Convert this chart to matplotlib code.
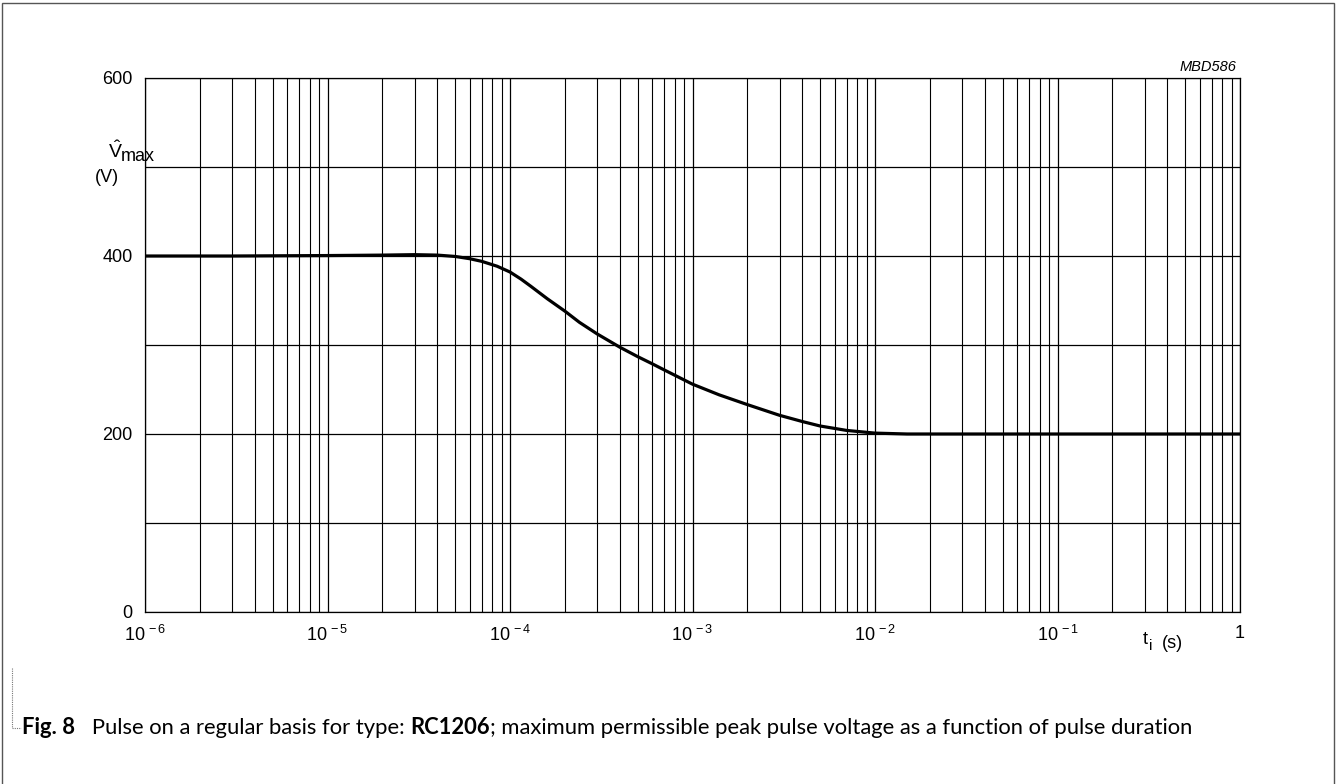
import matplotlib
matplotlib.use("Agg")
import matplotlib.pyplot as plt
from matplotlib.ticker import LogLocator, FixedLocator, NullFormatter, FixedFormatter
from matplotlib.patches import Rectangle
from matplotlib.lines import Line2D

plt.rcParams['font.family'] = ['Liberation Sans', 'DejaVu Sans']
plt.rcParams['mathtext.fontset'] = 'custom'
plt.rcParams['mathtext.rm'] = 'Liberation Sans'
plt.rcParams['mathtext.it'] = 'Liberation Sans:italic'

# ---- data ----
pulse_duration_s = [1e-6, 3e-6, 1e-5, 2e-5, 3e-5, 4e-5, 5e-5, 6e-5, 7e-5, 8.5e-5,
                    1e-4, 1.15e-4, 1.3e-4, 1.6e-4, 2e-4, 2.4e-4, 3e-4, 4e-4, 5e-4, 6e-4,
                    7e-4, 1e-3, 1.4e-3, 2e-3, 3e-3, 4e-3, 5e-3, 7e-3, 1e-2, 1.5e-2,
                    2e-2, 1e-1, 1.0]
v_max = [400, 400, 400.5, 401, 401.5, 401, 399.5, 397, 394, 388.5,
         382, 374, 366, 352, 338, 325.5, 312.5, 297.5, 287, 279,
         272, 256, 244, 233, 221, 214, 209, 204, 201, 200,
         200, 200, 200]

x_major = [1e-6, 1e-5, 1e-4, 1e-3, 1e-2, 1e-1, 1.0]
x_major_labels = [r'$10^{\,-6}$', r'$10^{\,-5}$', r'$10^{\,-4}$', r'$10^{\,-3}$',
                  r'$10^{\,-2}$', r'$10^{\,-1}$', '1']
y_grid = [0, 100, 200, 300, 400, 500, 600]
y_labels = ['0', '', '200', '', '400', '', '600']

W, H = 1338, 784
fig = plt.figure(figsize=(W / 100, H / 100), dpi=100)
fig.patch.set_facecolor('white')

ax = fig.add_axes([145 / W, 1 - 612 / H, (1240 - 145) / W, (612 - 78) / H])
ax.set_xscale('log')
ax.set_xlim(1e-6, 1.0)
ax.set_ylim(0, 600)

ax.xaxis.set_major_locator(FixedLocator(x_major))
ax.xaxis.set_major_formatter(FixedFormatter(x_major_labels))
ax.xaxis.set_minor_locator(LogLocator(base=10, subs=[2, 3, 4, 5, 6, 7, 8, 9], numticks=50))
ax.xaxis.set_minor_formatter(NullFormatter())
ax.yaxis.set_major_locator(FixedLocator(y_grid))
ax.yaxis.set_major_formatter(FixedFormatter(y_labels))

ax.grid(which='major', axis='both', color='black', linewidth=0.9)
ax.grid(which='minor', axis='x', color='black', linewidth=0.8)
ax.tick_params(which='both', length=0)
ax.tick_params(axis='x', pad=9, labelsize=13)
ax.tick_params(axis='y', pad=9, labelsize=13)
for s in ax.spines.values():
    s.set_linewidth(0.9)
ax.set_axisbelow(True)

ax.plot(pulse_duration_s, v_max, color='black', linewidth=2.3, solid_capstyle='butt',
        solid_joinstyle='round', zorder=5)

# axis titles
fig.text(115 / W, 1 - 151 / H, r'$\hat{\mathrm{V}}$', ha='center', va='center', fontsize=14)
fig.text(121 / W, 1 - 161 / H, 'max', ha='left', va='baseline', fontsize=13)
fig.text(107 / W, 1 - 178 / H, '(V)', ha='center', va='center', fontsize=13)
fig.text(1145 / W, 1 - 640 / H, 't', ha='center', va='center', fontsize=13)
fig.text(1151 / W, 1 - 650 / H, 'i', ha='center', va='baseline', fontsize=11)
fig.text(1183 / W, 1 - 643 / H, '(s)', ha='right', va='center', fontsize=13)
fig.text(1236 / W, 1 - 67 / H, 'MBD586', ha='right', va='center', fontsize=10.5, style='italic')

# outer frame
fig.add_artist(Rectangle((2 / W, -0.01), (1334 - 2) / W, 1 - 3 / H + 0.01, transform=fig.transFigure,
                         fill=False, edgecolor='#555555', linewidth=1.0))

# caption bracket (dotted)
fig.add_artist(Line2D([12 / W, 12 / W, 21 / W], [1 - 668 / H, 1 - 728 / H, 1 - 728 / H],
                      transform=fig.transFigure, color='#777777', linewidth=0.8, linestyle=(0, (1, 1))))

# caption with bold segments
parts = [('Fig. 8', 'bold'), ('   Pulse on a regular basis for type: ', 'normal'),
         ('RC1206', 'bold'),
         ('; maximum permissible peak pulse voltage as a function of pulse duration', 'normal')]
fig.canvas.draw()
renderer = fig.canvas.get_renderer()
xpos = 22
for txt, wt in parts:
    t = fig.text(xpos / W, 1 - 728 / H, txt, ha='left', va='center', fontsize=15.8,
                 family=['Lato', 'DejaVu Sans'], fontweight=wt)
    bb = t.get_window_extent(renderer=renderer)
    xpos += bb.width

fig.savefig('out.png', dpi=100, facecolor='white')
